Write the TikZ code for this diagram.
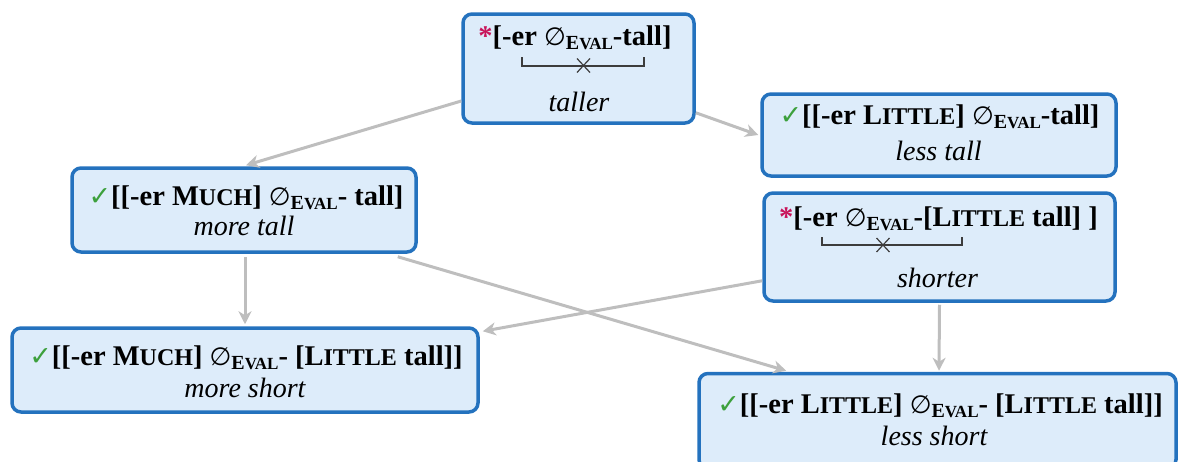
\documentclass[tikz,border=0pt]{standalone}
\usepackage{fontspec}
\setmainfont{Liberation Serif}
\newfontfamily\djv{DejaVu Sans}
\usetikzlibrary{arrows.meta,calc}
\definecolor{boxfill}{RGB}{221,236,250}
\definecolor{boxline}{RGB}{36,114,190}
\definecolor{conn}{RGB}{190,190,190}
\definecolor{ckgreen}{RGB}{60,160,60}
\definecolor{starred}{RGB}{200,20,90}
\definecolor{brk}{RGB}{60,60,60}
\newcommand\chk{{\djv\mdseries\fontsize{27}{27}\selectfont\color{ckgreen}✓}}
\newcommand\bad{{\color{starred}*}}
\newcommand\nulset{{\djv\mdseries\fontsize{25}{25}\selectfont ∅}}
\newcommand\evsub{\raisebox{-4.5pt}{\fontsize{20}{20}\selectfont E\fontsize{17}{17}\selectfont VAL}}
\newcommand\scLittle{L{\fontsize{24}{24}\selectfont ITTLE}}
\newcommand\scMuch{M{\fontsize{24}{24}\selectfont UCH}}
\tikzset{
  box/.style={draw=boxline, fill=boxfill, line width=3.5pt, rounded corners=9pt, inner sep=0pt},
  bold/.style={font=\fontsize{28.5}{32}\selectfont\bfseries, anchor=base, inner sep=0pt},
  gloss/.style={font=\fontsize{28}{32}\selectfont\itshape, anchor=base, inner sep=0pt},
  conn/.style={draw=conn, line width=3pt, -{Stealth[length=13pt,width=13pt,inset=4pt]}},
  brkline/.style={draw=brk, line width=1.2pt}
}
\begin{document}
\begin{tikzpicture}[x=1pt,y=-1pt]
\useasboundingbox (0,0) rectangle (1183,461);
% boxes
\node[box, minimum width=231pt, minimum height=109pt] (A) at (578.5,68.5) {};
\node[box, minimum width=354pt, minimum height=82pt] (B) at (939,135) {};
\node[box, minimum width=344pt, minimum height=84pt] (C) at (244,210) {};
\node[box, minimum width=351pt, minimum height=108pt] (D) at (939.5,247) {};
\node[box, minimum width=466pt, minimum height=84pt] (E) at (245,370) {};
\node[box, minimum width=477pt, minimum height=95pt] (F) at (937.5,421) {};
% texts
\node[bold] (A1) at (575,45) {\bad[-er \nulset\evsub-tall]};
\node[gloss] (A2) at (579,111) {taller};
\node[bold] (B1) at (939.5,124) {\chk[[-er \scLittle] \nulset\evsub-tall]};
\node[gloss] (B2) at (938.5,160) {less tall};
\node[bold] (C1) at (246,205) {\chk[[-er \scMuch] \nulset\evsub- tall]};
\node[gloss] (C2) at (244,235) {more tall};
\node[bold] (D1) at (938.5,226) {\bad[-er \nulset\evsub-[\scLittle{} tall] ]};
\node[gloss] (D2) at (937.5,287) {shorter};
\node[bold] (E1) at (246,365) {\chk[[-er \scMuch] \nulset\evsub- [\scLittle{} tall]]};
\node[gloss] (E2) at (245,397) {more short};
\node[bold] (F1) at (940,413) {\chk[[-er \scLittle] \nulset\evsub- [\scLittle{} tall]]};
\node[gloss] (F2) at (934,445) {less short};
% brackets
\draw[brkline] (522,57) -- (522,66) -- (644,66) -- (644,57);
\draw[brkline] (577,58.5) -- (590,72.5) (577,72.5) -- (590,58.5);
\draw[brkline] (822,237) -- (822,245) -- (962,245) -- (962,237);
\draw[brkline] (876.5,238) -- (889.5,252) (876.5,252) -- (889.5,238);
% connectors
\draw[conn] ([yshift=-32.5pt]A.west) -- ([xshift=2pt,yshift=1pt]C.north);
\draw[conn] ([yshift=12pt]A.south east) -- ([xshift=-2pt]B.west);
\draw[conn] ([xshift=1pt,yshift=-3pt]C.south) -- ([yshift=2pt]E.north);
\draw[conn] ([xshift=-20pt,yshift=-3pt]C.south east) -- ([xshift=89pt,yshift=1pt]F.north west);
\draw[conn] ([yshift=22pt]D.south west) -- ([xshift=3pt,yshift=-5pt]E.north east);
\draw[conn] ([yshift=-2pt]D.south) -- ([xshift=1.5pt,yshift=1pt]F.north);
\end{tikzpicture}
\end{document}
